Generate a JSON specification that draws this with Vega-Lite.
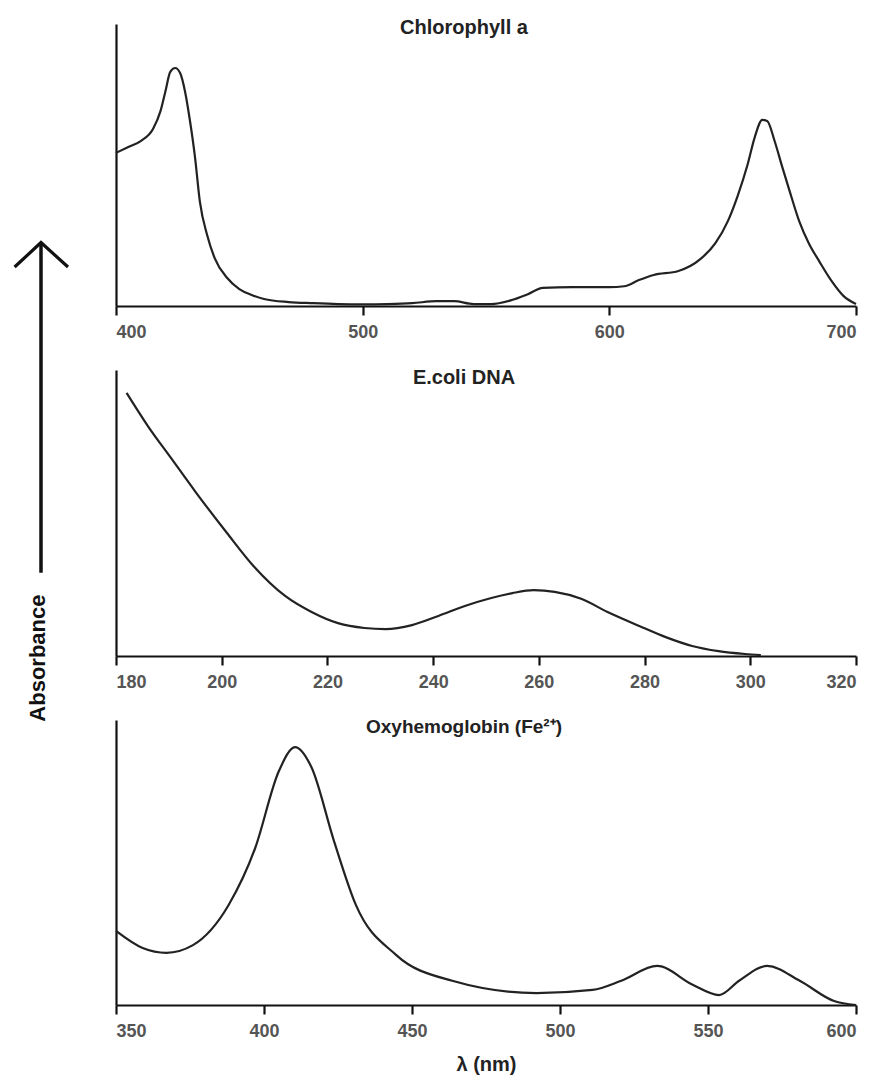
{
  "$schema": "https://vega.github.io/schema/vega-lite/v6.json",
  "background": "white",
  "padding": {"left": 8, "top": 18, "right": 4, "bottom": 4},
  "bounds": "flush",
  "spacing": 45,
  "config": {
    "view": {"stroke": null},
    "font": "Liberation Sans",
    "axisX": {
      "domainColor": "#111", "domainWidth": 2.2,
      "tickColor": "#111", "tickWidth": 2.2, "tickSize": 9,
      "labelFont": "Liberation Sans", "labelFontSize": 18, "labelFontWeight": "bold",
      "labelColor": "#555", "labelPadding": 8, "grid": false,
      "titleFont": "Liberation Sans", "titleFontSize": 20, "titleFontWeight": "bold",
      "titleColor": "#222", "titlePadding": 14
    },
    "axisY": {
      "domainColor": "#111", "domainWidth": 2.2, "ticks": false, "labels": false,
      "grid": false, "title": null
    },
    "title": {
      "font": "Liberation Sans", "fontSize": 20, "fontWeight": "bold", "color": "#222",
      "anchor": "middle", "frame": "group", "orient": "top", "offset": -16, "baseline": "middle", "dx": -22
    }
  },
  "hconcat": [
    {
      "width": 60,
      "height": 980,
      "data": {"values": [
        {"part": "shaft", "px": 0, "py": 0.777, "py2": 0.44},
        {"part": "head", "k": 1, "px": -0.88, "py": 0.752},
        {"part": "head", "k": 2, "px": 0, "py": 0.777},
        {"part": "head", "k": 3, "px": 0.9, "py": 0.752},
        {"part": "label", "px": -0.1, "py": 0.353, "label": "Absorbance"}
      ]},
      "layer": [
        {
          "transform": [{"filter": "datum.part === 'shaft'"}],
          "mark": {"type": "rule", "strokeWidth": 3.5, "color": "#111"},
          "encoding": {
            "x": {"field": "px", "type": "quantitative", "scale": {"domain": [-1, 1]}, "axis": null},
            "y": {"field": "py", "type": "quantitative", "scale": {"domain": [0, 1]}, "axis": null},
            "y2": {"field": "py2"}
          }
        },
        {
          "transform": [{"filter": "datum.part === 'head'"}],
          "mark": {"type": "line", "strokeWidth": 3.2, "color": "#111", "interpolate": "linear"},
          "encoding": {
            "x": {"field": "px", "type": "quantitative", "scale": {"domain": [-1, 1]}, "axis": null},
            "y": {"field": "py", "type": "quantitative", "scale": {"domain": [0, 1]}, "axis": null},
            "order": {"field": "k"}
          }
        },
        {
          "transform": [{"filter": "datum.part === 'label'"}],
          "mark": {"type": "text", "angle": 270, "fontSize": 22, "fontWeight": "bold", "font": "Liberation Sans", "color": "#111", "align": "center", "baseline": "middle"},
          "encoding": {
            "x": {"field": "px", "type": "quantitative", "scale": {"domain": [-1, 1]}, "axis": null},
            "y": {"field": "py", "type": "quantitative", "scale": {"domain": [0, 1]}, "axis": null},
            "text": {"field": "label"}
          }
        }
      ]
    },
    {
      "bounds": "flush",
      "spacing": 64,
      "vconcat": [
        {
          "width": 740,
          "height": 282,
          "title": {"text": "Chlorophyll a", "offset": -14},
          "data": {"values": [
            {"nm": 400, "A": 0.543}, {"nm": 405, "A": 0.564}, {"nm": 410, "A": 0.585},
            {"nm": 415, "A": 0.628}, {"nm": 418, "A": 0.69}, {"nm": 420, "A": 0.76},
            {"nm": 422, "A": 0.83}, {"nm": 424, "A": 0.844}, {"nm": 426, "A": 0.826},
            {"nm": 428, "A": 0.76}, {"nm": 430, "A": 0.656}, {"nm": 432, "A": 0.53},
            {"nm": 434, "A": 0.37}, {"nm": 437, "A": 0.25}, {"nm": 440, "A": 0.17},
            {"nm": 445, "A": 0.1}, {"nm": 450, "A": 0.06}, {"nm": 455, "A": 0.039},
            {"nm": 460, "A": 0.025}, {"nm": 470, "A": 0.014}, {"nm": 480, "A": 0.01},
            {"nm": 490, "A": 0.007}, {"nm": 500, "A": 0.006}, {"nm": 510, "A": 0.007},
            {"nm": 520, "A": 0.01}, {"nm": 530, "A": 0.017}, {"nm": 537, "A": 0.017},
            {"nm": 545, "A": 0.007}, {"nm": 552, "A": 0.007}, {"nm": 560, "A": 0.02},
            {"nm": 567, "A": 0.042}, {"nm": 573, "A": 0.064}, {"nm": 585, "A": 0.067},
            {"nm": 600, "A": 0.067}, {"nm": 606, "A": 0.07}, {"nm": 612, "A": 0.092},
            {"nm": 618, "A": 0.11}, {"nm": 628, "A": 0.124}, {"nm": 637, "A": 0.167},
            {"nm": 643, "A": 0.223}, {"nm": 648, "A": 0.3}, {"nm": 652, "A": 0.39},
            {"nm": 656, "A": 0.5}, {"nm": 659, "A": 0.6}, {"nm": 662, "A": 0.66},
            {"nm": 664, "A": 0.656}, {"nm": 667, "A": 0.585}, {"nm": 670, "A": 0.496},
            {"nm": 673, "A": 0.41}, {"nm": 677, "A": 0.3}, {"nm": 681, "A": 0.22},
            {"nm": 685, "A": 0.16}, {"nm": 690, "A": 0.09}, {"nm": 695, "A": 0.035},
            {"nm": 700, "A": 0.007}
          ]},
          "mark": {"type": "line", "interpolate": "monotone", "color": "#222", "strokeWidth": 2.2},
          "encoding": {
            "x": {"field": "nm", "type": "quantitative", "scale": {"domain": [400, 700], "nice": false, "zero": false}, "axis": {"values": [400, 500, 600, 700], "title": null}},
            "y": {"field": "A", "type": "quantitative", "scale": {"domain": [0, 1], "nice": false}}
          }
        },
        {
          "width": 740,
          "height": 286,
          "title": {"text": "E.coli DNA", "offset": -18},
          "data": {"values": [
            {"nm": 182, "A": 0.92}, {"nm": 186, "A": 0.805}, {"nm": 190.5, "A": 0.69},
            {"nm": 195, "A": 0.575}, {"nm": 201, "A": 0.43}, {"nm": 206, "A": 0.315},
            {"nm": 212, "A": 0.21}, {"nm": 217, "A": 0.154}, {"nm": 222, "A": 0.115},
            {"nm": 227, "A": 0.098}, {"nm": 231, "A": 0.094}, {"nm": 236, "A": 0.108},
            {"nm": 241, "A": 0.14}, {"nm": 246, "A": 0.175}, {"nm": 251, "A": 0.203},
            {"nm": 255, "A": 0.22}, {"nm": 259, "A": 0.23}, {"nm": 263, "A": 0.224},
            {"nm": 268, "A": 0.2}, {"nm": 273, "A": 0.154}, {"nm": 279, "A": 0.105},
            {"nm": 284, "A": 0.066}, {"nm": 289, "A": 0.035}, {"nm": 294, "A": 0.017},
            {"nm": 299, "A": 0.007}, {"nm": 302, "A": 0.003}
          ]},
          "mark": {"type": "line", "interpolate": "monotone", "color": "#222", "strokeWidth": 2.2},
          "encoding": {
            "x": {"field": "nm", "type": "quantitative", "scale": {"domain": [180, 320], "nice": false, "zero": false}, "axis": {"values": [180, 200, 220, 240, 260, 280, 300, 320], "title": null}},
            "y": {"field": "A", "type": "quantitative", "scale": {"domain": [0, 1], "nice": false}}
          }
        },
        {
          "width": 740,
          "height": 285,
          "title": {"text": "Oxyhemoglobin (Fe²⁺)", "offset": -17, "fontSize": 19},
          "data": {"values": [
            {"nm": 350, "A": 0.26}, {"nm": 359, "A": 0.2}, {"nm": 367, "A": 0.183},
            {"nm": 376, "A": 0.21}, {"nm": 388, "A": 0.35}, {"nm": 397, "A": 0.55},
            {"nm": 405, "A": 0.82}, {"nm": 410.5, "A": 0.905}, {"nm": 416, "A": 0.835},
            {"nm": 423.6, "A": 0.577}, {"nm": 431, "A": 0.352}, {"nm": 444.6, "A": 0.176},
            {"nm": 463.6, "A": 0.085}, {"nm": 492, "A": 0.042}, {"nm": 511, "A": 0.053},
            {"nm": 520.7, "A": 0.085}, {"nm": 532.8, "A": 0.137}, {"nm": 545, "A": 0.07},
            {"nm": 553.7, "A": 0.035}, {"nm": 560.5, "A": 0.085}, {"nm": 570, "A": 0.137},
            {"nm": 581, "A": 0.085}, {"nm": 592.6, "A": 0.014}, {"nm": 600, "A": 0.0}
          ]},
          "mark": {"type": "line", "interpolate": "monotone", "color": "#222", "strokeWidth": 2.2},
          "encoding": {
            "x": {"field": "nm", "type": "quantitative", "scale": {"domain": [350, 600], "nice": false, "zero": false}, "axis": {"values": [350, 400, 450, 500, 550, 600], "title": "λ (nm)"}},
            "y": {"field": "A", "type": "quantitative", "scale": {"domain": [0, 1], "nice": false}}
          }
        }
      ]
    }
  ]
}
